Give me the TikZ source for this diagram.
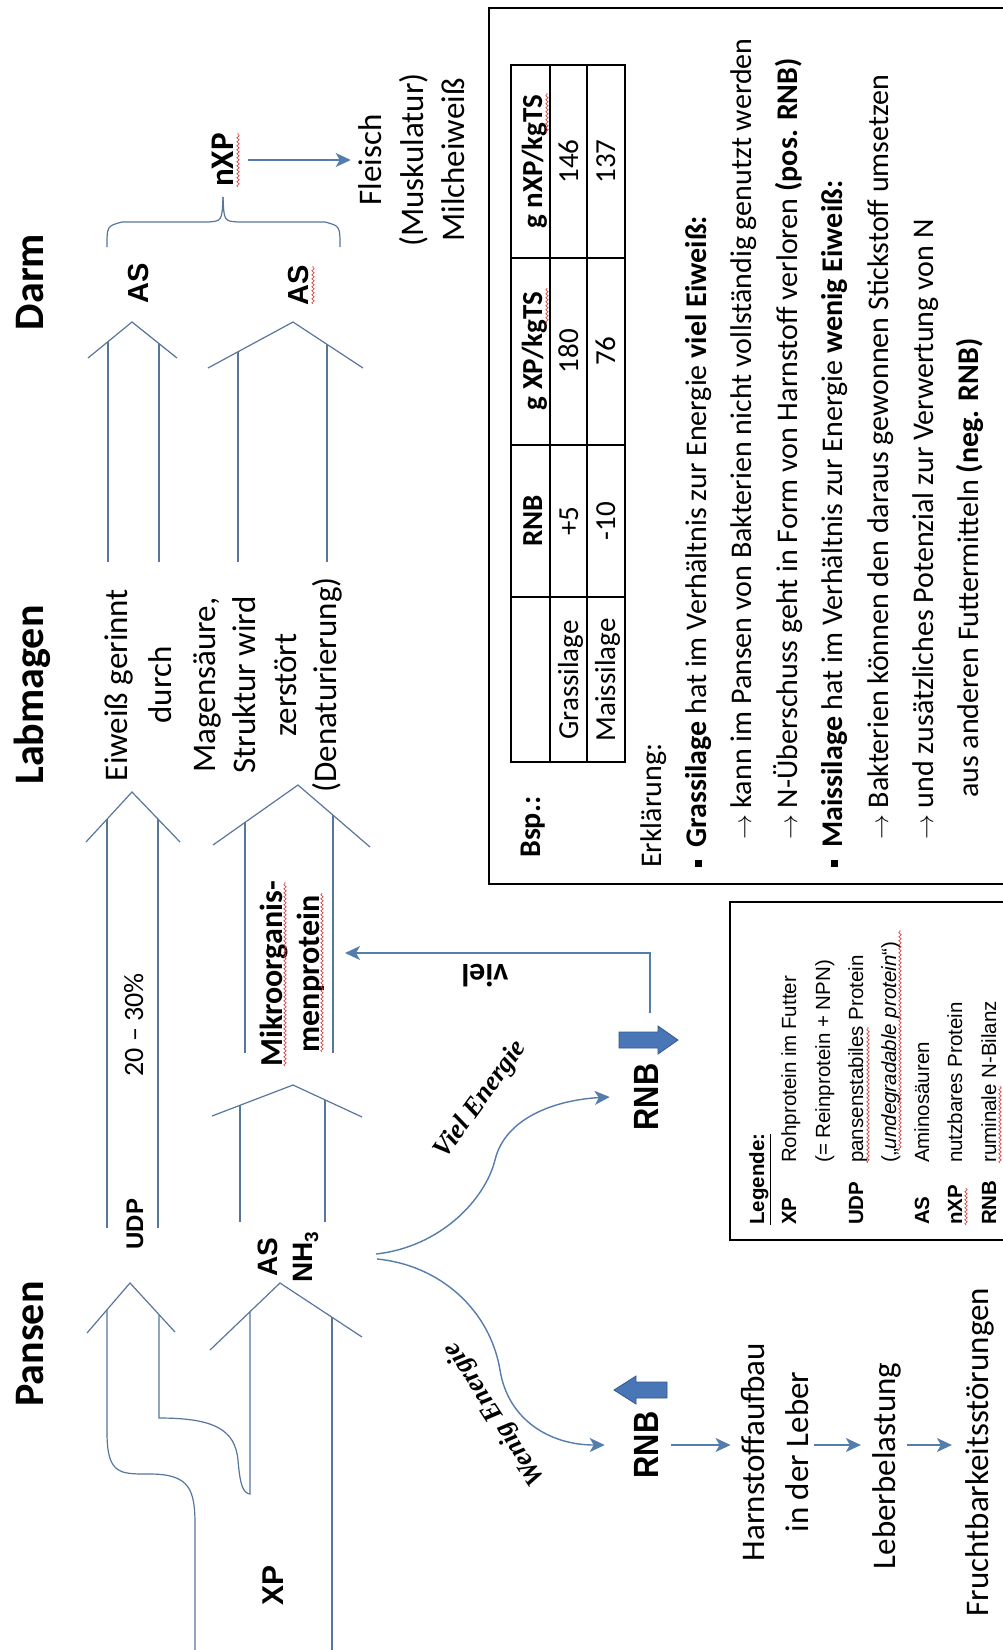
\documentclass[tikz,border=0pt]{standalone}
\usepackage{fontspec}
\setmainfont{Carlito}
\newfontfamily\arialf{Liberation Sans}
\newfontfamily\serf{Liberation Serif}
\usetikzlibrary{arrows.meta,decorations.pathmorphing}
\definecolor{bandc}{RGB}{88,118,156}
\definecolor{arrc}{RGB}{84,124,172}
\definecolor{blockf}{RGB}{72,118,182}
\definecolor{blockd}{RGB}{52,88,140}
\definecolor{sqc}{RGB}{225,50,50}
\newcommand\fsz[2]{\fontsize{#1}{#2}\selectfont}
\newcommand\bul{\rule[4pt]{7pt}{7pt}\hspace{12pt}}
\newcommand\rarr{\ensuremath{\rightarrow}\ }
% apex x, apex y, left wing x,y, right wing x,y, line a, line b, start y
\newcommand\bandarrow[9]{%
  \pgfmathsetmacro\myYl{#2+(#1-#7)*(#4-#2)/(#1-#3)}%
  \pgfmathsetmacro\myYr{#2+(#8-#1)*(#6-#2)/(#5-#1)}%
  \draw[band] (#7,#9) -- (#7,\myYl);
  \draw[band] (#8,#9) -- (#8,\myYr);
  \draw[band] (#3,#4) -- (#1,#2) -- (#5,#6);
}
\begin{document}
\begin{tikzpicture}[x=1pt, y={(0pt,-1pt)},
  every node/.style={inner sep=0pt},
  band/.style={draw=bandc, line width=1.2pt},
  arr/.style={draw=arrc, line width=1.4pt, -{Stealth[length=15pt,width=14pt,inset=4pt]}},
  squig/.style={draw=sqc, line width=0.6pt, decorate, decoration={snake, amplitude=1.2pt, segment length=4pt}},
  rot/.style={rotate=90},
  txt/.style={font=\fsz{33}{40}},
  lab/.style={font=\arialf\bfseries\fsz{28}{32}},
  tab/.style={rotate=90, anchor=base, font=\fsz{29}{34}},
  tabh/.style={rotate=90, anchor=base, font=\bfseries\fsz{29}{34}},
  expl/.style={rotate=90, anchor=base west, font=\fsz{30}{36}},
  leg/.style={rotate=90, anchor=base west, font=\arialf\fsz{20.5}{24}},
  legb/.style={rotate=90, anchor=base west, font=\arialf\bfseries\fsz{20.5}{24}},
  block/.style={fill=blockf, draw=blockd, line width=0.8pt},
  ener/.style={font=\serf\bfseries\itshape\fsz{27}{30}}
]
\fill[white] (0,0) rectangle (1003,1650);
\useasboundingbox (0,0) rectangle (1003,1650);
\clip (0,0) rectangle (1003,1650);

% ---------- headings
\node[rot, anchor=base, font=\bfseries\fsz{42}{50}] (hdarm) at (43,282) {Darm};
\node[rot, anchor=base, font=\bfseries\fsz{42}{50}] (hlab) at (43,695) {Labmagen};
\node[rot, anchor=base, font=\bfseries\fsz{42}{50}] (hpan) at (43,1344) {Pansen};

% ---------- Darm
\node[rot, anchor=base, font=\arialf\bfseries\fsz{29}{34}] (asD1) at (148,283) {AS};
\node[rot, anchor=base, font=\arialf\bfseries\fsz{29}{34}] (asD2) at (308,285) {AS};
\draw[squig] (313,304) -- (313,266);
\bandarrow{132}{322}{88}{358}{177}{358}{108}{159}{562}
\bandarrow{293}{322}{208}{368}{363}{368}{238}{327}{562}

\draw[band] (107,247) .. controls (107,226) .. (122,222) -- (208,222) .. controls (222,221) .. (223,197);
\draw[band] (223,197) .. controls (224,221) .. (238,222) -- (325,222) .. controls (340,226) .. (340,247);
\node[rot, anchor=base, font=\bfseries\fsz{33}{40}] (nxp) at (233,160) {nXP};
\draw[squig] (238,187) -- (238,133);
\node[rot, align=center, font=\fsz{33}{41.5}] (fleisch) at (412,160) {Fleisch\\(Muskulatur)\\Milcheiweiß};
\draw[arr, shorten <=15pt, shorten >=8pt] (nxp.south) -- (fleisch.north |- nxp.south);

% ---------- Labmagen
\node[rot, align=center, font=\fsz{33}{44}] (eiw) at (138.5,685) {Eiweiß gerinnt\\durch};
\node[rot, align=center, font=\fsz{33}{40.5}] (mag) at (268,685) {Magensäure,\\Struktur wird\\zerstört\\(Denaturierung)};
\bandarrow{132}{792}{86}{842}{180}{842}{107}{158}{1228}
\bandarrow{298}{785}{213}{845}{370}{847}{245}{333}{1053}
\node[rot, anchor=base, font=\fsz{28}{34}] (pct) at (143,1025) {20 – 30\%};
\node[rot, align=center, font=\bfseries\fsz{32}{37}] (mik) at (292,974) {Mikroorganis-\\menprotein};
\draw[squig] (285,1066) -- (285,882);
\draw[squig] (322,1052) -- (322,893);

% ---------- Pansen
\bandarrow{293}{1085}{212}{1116}{362}{1117}{240}{325}{1222}
\node[rot, anchor=base, font=\arialf\bfseries\fsz{24}{28}] (udp) at (143,1224) {UDP};
\node[rot, anchor=base, lab] (asP) at (277,1257) {AS};
\node[rot, anchor=base, lab] (nh3) at (312,1257) {NH\raisebox{-6pt}{\fsz{19}{20}3}};
\draw[band] (87,1333) -- (130,1283) -- (175,1332);
\draw[band] (210,1350) -- (280,1283) -- (362,1337);
\draw[band] (107,1310) -- (107,1432) .. controls (107,1475) and (120,1474) .. (150,1474) .. controls (190,1474) and (195,1490) .. (195,1525) -- (195,1660);
\draw[band] (159,1315) -- (159,1418) .. controls (215,1418) and (235,1430) .. (238,1460) .. controls (240,1485) and (243,1493) .. (250,1494) -- (250,1312);
\draw[band] (332,1317) -- (332,1660);
\node[rot, anchor=base, font=\arialf\bfseries\fsz{30}{34}] (xp) at (283,1585) {XP};

% ---------- RNB
\node[rotate=90, xscale=0.88, anchor=base, font=\arialf\bfseries\fsz{35}{40}] (rnbT) at (658,1097) {RNB};
\node[rotate=90, xscale=0.88, anchor=base, font=\arialf\bfseries\fsz{35}{40}] (rnbB) at (658,1445) {RNB};
\path[block] (619,1032) -- (658,1032) -- (658,1026) -- (678,1040) -- (658,1054) -- (658,1048) -- (619,1048) -- cycle;
\path[block] (667,1398) -- (636,1398) -- (636,1404) -- (614,1390) -- (636,1376) -- (636,1382) -- (667,1382) -- cycle;

\coordinate (splitA) at (376,1254);
\coordinate (splitB) at (377,1259);
\draw[arr] (splitA) .. controls (440,1247) and (485,1200) .. (495,1160) .. controls (505,1118) and (555,1100) .. ([xshift=-24pt]rnbT.north);
\draw[arr] (splitB) .. controls (440,1265) and (490,1310) .. (500,1370) .. controls (508,1420) and (550,1445) .. ([xshift=-29pt]rnbB.north);
\node[rotate=54, ener] (viellbl) at (481,1100) {Viel Energie};
\node[rotate=123, ener] (weniglbl) at (495,1414) {Wenig Energie};

\coordinate (vielA) at (650,1013);
\coordinate (vielB) at (345,953);
\draw[arr] (vielA) |- (vielB);
\node[rotate=180, font=\bfseries\fsz{32}{36}] (viel) at (485,976) {viel};

\node[rot, align=center, font=\fsz{33}{44}] (harn) at (774.5,1452) {Harnstoffaufbau\\in der Leber};
\node[rot, anchor=base, txt] (leber) at (895,1466) {Leberbelastung};
\node[rot, anchor=base, txt] (frucht) at (988,1452) {Fruchtbarkeitsstörungen};
\draw[arr, shorten <=13pt, shorten >=10pt] (rnbB.south) -- (harn.north |- rnbB.south);
\draw[arr, shorten <=6pt, shorten >=11pt] (harn.south |- rnbB.south) -- (leber.north |- rnbB.south);
\draw[arr, shorten <=6pt, shorten >=13pt] (leber.south |- rnbB.south) -- (frucht.north |- rnbB.south);

% ---------- example box
\draw[line width=1.3pt] (1010,8) -- (489,8) -- (489,884) -- (1010,884);
\node[rot, anchor=base west, font=\bfseries\fsz{30}{36}] (bsp) at (540,858) {Bsp.:};
\draw[line width=1.2pt] (511,65) rectangle (625,762);
\draw[line width=1.2pt] (550,65) -- (550,762) (587,65) -- (587,762)
  (511,258) -- (625,258) (511,445) -- (625,445) (511,597) -- (625,597);
\node[tabh] (th1) at (542,521) {RNB};
\node[tabh] (th2) at (542,351) {g XP/kgTS};
\node[tabh] (th3) at (542,161.5) {g nXP/kgTS};
\node[tab] (tg0) at (578,680) {Grassilage};
\node[tab] (tg1) at (578,521) {+5};
\node[tab] (tg2) at (578,351) {180};
\node[tab] (tg3) at (578,161.5) {146};
\node[tab] (tm0) at (615,680) {Maissilage};
\node[tab] (tm1) at (615,521) {-10};
\node[tab] (tm2) at (615,351) {76};
\node[tab] (tm3) at (615,161.5) {137};
\draw[squig] (547,323) -- (547,288);
\draw[squig] (547,133) -- (547,93);

\node[expl] (e0) at (661,868) {Erklärung:};
\node[expl] (e1) at (706,867) {\bul\textbf{Grassilage} hat im Verhältnis zur Energie \textbf{viel Eiweiß:}};
\node[expl] (e2) at (751,840) {\rarr kann im Pansen von Bakterien nicht vollständig genutzt werden};
\node[expl] (e3) at (797,840) {\rarr N-Überschuss geht in Form von Harnstoff verloren \textbf{(pos. RNB)}};
\node[expl] (e4) at (842,867) {\bul\textbf{Maissilage} hat im Verhältnis zur Energie \textbf{wenig Eiweiß:}};
\node[expl] (e5) at (888,840) {\rarr Bakterien können den daraus gewonnen Stickstoff umsetzen};
\node[expl] (e6) at (933,840) {\rarr und zusätzliches Potenzial zur Verwertung von N};
\node[expl] (e7) at (978,798) {aus anderen Futtermitteln \textbf{(neg. RNB)}};

% ---------- legend
\draw[line width=1.3pt] (1010,902) -- (730,902) -- (730,1240) -- (1010,1240);
\node[legb] (lg0) at (764,1225) {\underline{Legende:}};
\node[legb] (lgxp) at (796,1225) {XP};
\node[leg] (lgxpd) at (796,1163) {Rohprotein im Futter};
\node[leg] (lgxpd2) at (830,1163) {(= Reinprotein + NPN)};
\node[legb] (lgudp) at (863,1225) {UDP};
\node[leg] (lgudpd) at (863,1163) {pansenstabiles Protein};
\node[leg] (lgudpd2) at (896,1163) {(„\textit{undegradable protein}“)};
\node[legb] (lgas) at (929,1225) {AS};
\node[leg] (lgasd) at (929,1163) {Aminosäuren};
\node[legb] (lgnxp) at (962,1225) {nXP};
\node[leg] (lgnxpd) at (962,1163) {nutzbares Protein};
\node[legb] (lgrnb) at (996,1225) {RNB};
\node[leg] (lgrnbd) at (996,1163) {ruminale N-Bilanz};
\draw[squig] (868,1163) -- (868,1027);
\draw[squig] (900,1150) -- (900,930);
\draw[squig] (966,1225) -- (966,1188);
\draw[squig] (1000,1163) -- (1000,1086);
\end{tikzpicture}
\end{document}
